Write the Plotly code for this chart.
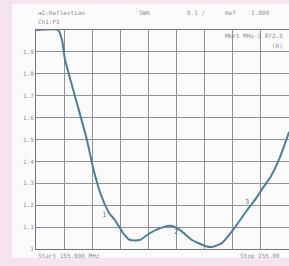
import plotly.graph_objects as go

# Data (frequency in MHz, SWR)
freq = [155.0, 162.9, 164.3, 165.4, 168.9, 173.2, 175.4, 178.2, 180.0, 181.1, 183.2, 186.1,
        188.6, 192.1, 195.7, 200.4, 203.6, 206.4, 210.7, 215.4, 217.9, 221.4, 225.4,
        230.4, 233.2, 236.1, 239.0, 242.0, 245.4]
swr = [2.0, 2.0, 1.954, 1.863, 1.699, 1.498, 1.37, 1.247, 1.192, 1.164, 1.132, 1.073,
       1.041, 1.041, 1.073, 1.100, 1.105, 1.087, 1.041, 1.014, 1.009, 1.027, 1.087,
       1.178, 1.224, 1.280, 1.335, 1.415, 1.535]

marker_names = ["1", "2", "3"]
marker_freq = [179.4, 205.0, 230.4]
marker_swr = [1.155, 1.075, 1.215]

ytick_vals = [1.0, 1.1, 1.2, 1.3, 1.4, 1.5, 1.6, 1.7, 1.8, 1.9]
ytick_text = ["1", "1.1", "1.2", "1.3", "1.4", "1.5", "1.6", "1.7", "1.8", "1.9"]

x_start, x_span_shown = 155.0, 253 / 2.8

text_col = "#8a8f94"
grid_col = "#8e9296"
font_fam = "DejaVu Sans Mono"

fig = go.Figure()
fig.add_trace(go.Scatter(x=freq, y=swr, mode="lines",
                         line=dict(color="#4f7f98", width=2, shape="spline", smoothing=0.5),
                         hoverinfo="skip", showlegend=False, cliponaxis=True))
fig.add_trace(go.Scatter(x=marker_freq, y=marker_swr, mode="text", text=marker_names,
                         textfont=dict(size=7, color="#6d7478", family=font_fam),
                         showlegend=False, hoverinfo="skip"))

fig.update_xaxes(range=[x_start, x_start + x_span_shown], tick0=155, dtick=10, automargin=False,
                 showgrid=True, gridcolor=grid_col, gridwidth=1, showticklabels=False,
                 zeroline=False, showline=True, linecolor="#6f7478", linewidth=1, mirror=True, ticks="")
fig.update_yaxes(range=[1.0, 2.0], tickvals=ytick_vals, ticktext=ytick_text, automargin=False,
                 showgrid=True, gridcolor=grid_col, gridwidth=1,
                 tickfont=dict(size=6, color=text_col, family=font_fam),
                 zeroline=False, showline=True, linecolor="#6f7478", linewidth=1, mirror=True, ticks="")

# screen background
fig.add_shape(type="rect", xref="paper", yref="paper", x0=-0.095, x1=1.05, y0=-0.041, y1=1.12,
              fillcolor="#fbfbfc", line=dict(width=0), layer="below")

ann = [
    ("\u25c41:Reflection", 0.0, 1.08, "left"),
    ("SWR", 0.40, 1.08, "left"),
    ("0.1 /", 0.59, 1.08, "left"),
    ("Ref", 0.74, 1.08, "left"),
    ("1.000", 0.84, 1.08, "left"),
    ("Ch1:F1", 0.0, 1.04, "left"),
    ("Mkr1 MHz-3 872.5", 0.985, 0.975, "right"),
    ("(R)", 0.985, 0.93, "right"),
    ("Start 155.000 MHz", 0.0, -0.03, "left"),
    ("Stop 255.00", 0.80, -0.03, "left"),
]
for t, x, y, a in ann:
    fig.add_annotation(text=t, xref="paper", yref="paper", x=x, y=y, xanchor=a, yanchor="middle",
                       showarrow=False, font=dict(size=6, color=text_col, family=font_fam))

fig.update_layout(width=289, height=266, margin=dict(l=36, r=0, t=30, b=17),
                  paper_bgcolor="#f5e3ee", plot_bgcolor="#fbfbfc")

fig.write_html("out.html", config={"displayModeBar": False},
               post_script="document.body.style.margin='0';document.body.style.overflow='hidden';document.body.style.background='#f5e3ee';")
